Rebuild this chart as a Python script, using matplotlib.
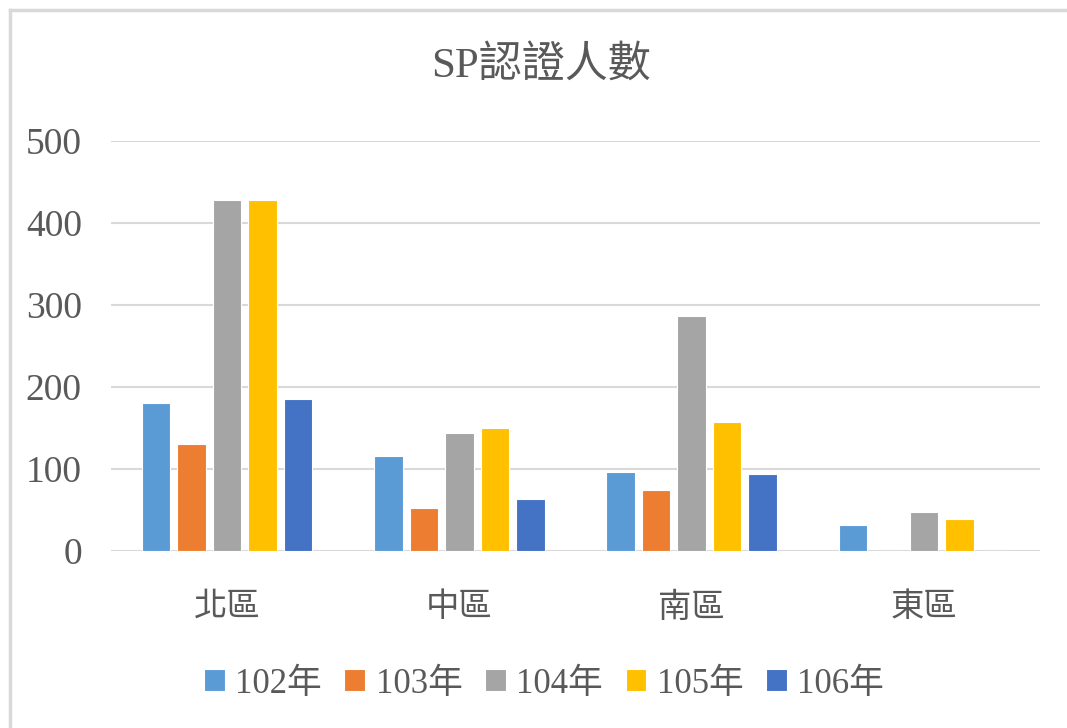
import numpy as np
import matplotlib
matplotlib.use("Agg")
import matplotlib.pyplot as plt
from matplotlib.lines import Line2D

regions = ["北區", "中區", "南區", "東區"]
years = ["102年", "103年", "104年", "105年", "106年"]
counts_102 = [181, 116, 96, 32]
counts_103 = [130, 53, 75, 0]
counts_104 = [428, 144, 286, 47]
counts_105 = [428, 150, 157, 39]
counts_106 = [185, 63, 94, 0]
colors = ["#5B9BD5", "#ED7D31", "#A5A5A5", "#FFC000", "#4472C4"]
yticks = [0, 100, 200, 300, 400, 500]

FONT = ["Liberation Serif", "Noto Sans CJK TC"]
TXT = "#595959"

fig = plt.figure(figsize=(10.67, 7.28), dpi=100)
W, H = 1067, 728

# outer chart frame: only the left and top edges show in the crop
fig.add_artist(Line2D([9.5 / W, 9.5 / W], [0, 1 - 9.5 / H], transform=fig.transFigure,
                      color="#D9D9D9", lw=2.5))
fig.add_artist(Line2D([9.5 / W, 1], [1 - 9.5 / H, 1 - 9.5 / H], transform=fig.transFigure,
                      color="#D9D9D9", lw=2.5))

ax = fig.add_axes([111 / W, 1 - 551 / H, 929 / W, 410 / H])

series = [counts_102, counts_103, counts_104, counts_105, counts_106]
x = np.arange(len(regions))
bw = 0.123
step = 0.153
for i, (vals, c, lab) in enumerate(zip(series, colors, years)):
    ax.bar(x + (i - 2) * step, vals, width=bw, color=c, label=lab,
           edgecolor="white", linewidth=0.8, zorder=3)

ax.set_xlim(-0.5, len(regions) - 0.5)
ax.set_ylim(0, 500)
ax.set_yticks(yticks)
ax.set_yticklabels([str(v) for v in yticks], family=FONT, fontsize=27, color=TXT)
ax.set_xticks(x)
ax.set_xticklabels(regions, family=FONT, fontsize=24, color=TXT)
ax.tick_params(axis="y", length=0, pad=21)
ax.tick_params(axis="x", length=0, pad=30)
ax.grid(axis="y", color="#D9D9D9", lw=1.5, zorder=0)
for s in ax.spines.values():
    s.set_visible(False)

fig.text(541 / W, 1 - 67 / H, "SP認證人數", family=FONT, fontsize=31,
         color=TXT, ha="center", va="center")

leg = fig.legend(loc="center", bbox_to_anchor=(544 / W, 1 - 684 / H), ncol=5,
                 frameon=False, prop={"family": FONT, "size": 25},
                 handlelength=0.6, handleheight=0.6, handletextpad=0.3,
                 columnspacing=0.65)
for t in leg.get_texts():
    t.set_color(TXT)

fig.savefig("out.png", dpi=100)
